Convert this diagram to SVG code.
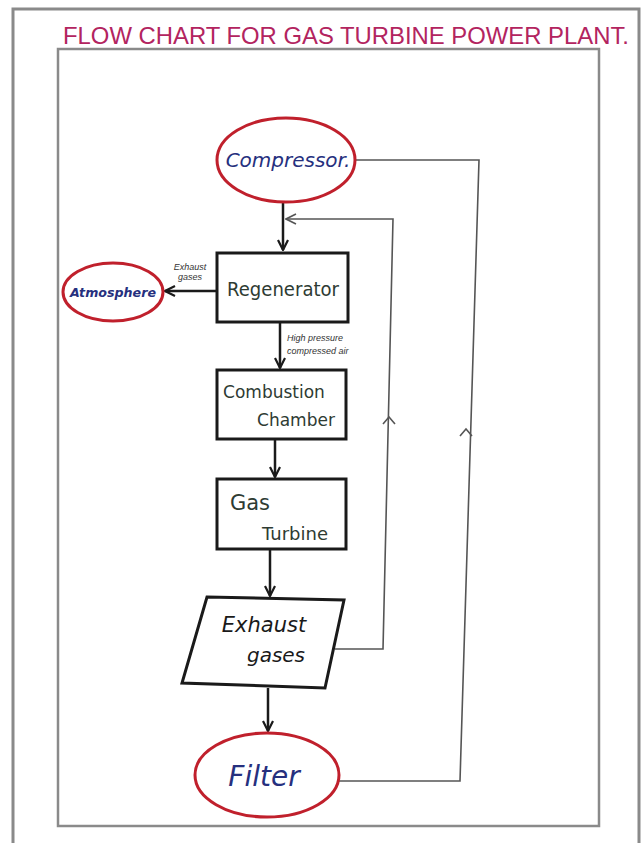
<svg xmlns="http://www.w3.org/2000/svg" width="642" height="843" viewBox="0 0 642 843">
<defs>
<marker id="ah" viewBox="0 0 12 12" refX="11" refY="6" markerWidth="12" markerHeight="12" markerUnits="userSpaceOnUse" orient="auto">
<path d="M1,1 L11,6 L1,11" fill="none" stroke="#1a1a1a" stroke-width="2.2"/>
</marker>
<marker id="ahg" viewBox="0 0 12 12" refX="11" refY="6" markerWidth="12" markerHeight="12" markerUnits="userSpaceOnUse" orient="auto">
<path d="M1,1 L11,6 L1,11" fill="none" stroke="#555" stroke-width="1.6"/>
</marker>
</defs>
<style>
.frame{fill:none;stroke:#8a8a8a}
.box{fill:#fff;stroke:#1a1a1a;stroke-width:3}
.oval{fill:#fff;stroke:#c0202c;stroke-width:3}
.main{fill:none;stroke:#1a1a1a;stroke-width:2.5}
.fb{fill:none;stroke:#555;stroke-width:1.6}
.t{font-family:"DejaVu Sans","Liberation Sans",sans-serif;text-anchor:middle}
.green{fill:#2e3b33}
.blue{fill:#26307e;font-style:italic}
.small{font-family:"Liberation Sans",sans-serif;font-size:9px;fill:#333;font-style:italic}
</style>
<rect width="642" height="843" fill="#fff"/>
<g id="frame">
<path class="frame" d="M13,845 L13,9 L639,9 L639,845" stroke-width="3"/>
<rect class="frame" x="58" y="49" width="541" height="777" stroke-width="2.5"/>
</g>
<g id="title">
<text x="63" y="44" textLength="566" lengthAdjust="spacingAndGlyphs" font-family="Liberation Sans, sans-serif" font-size="24" fill="#b3245f">FLOW CHART FOR GAS TURBINE POWER PLANT.</text>
</g>
<g id="connectors">
<path class="main" d="M283,202 L283,250" marker-end="url(#ah)"/>
<path class="main" d="M217,291 L165,291" marker-end="url(#ah)"/>
<path class="main" d="M280,322 L280,368" marker-end="url(#ah)"/>
<path class="main" d="M275,439 L275,477" marker-end="url(#ah)"/>
<path class="main" d="M270,549 L270,596" marker-end="url(#ah)"/>
<path class="main" d="M268,688 L268,731" marker-end="url(#ah)"/>
<path class="fb" d="M335,649 L383,649 L393,219 L286,219" marker-end="url(#ahg)"/>
<path class="fb" d="M356,160 L479,160 L460,781 L339,781"/>
<path class="fb" d="M383,424 L389,417 L395,424"/>
<path class="fb" d="M460,436 L466,429 L472,436"/>
<text class="small" x="190" y="270" text-anchor="middle">Exhaust</text>
<text class="small" x="190" y="280" text-anchor="middle">gases</text>
<text class="small" x="287" y="341">High pressure</text>
<text class="small" x="287" y="354">compressed air</text>
</g>
<g id="compressor">
<ellipse class="oval" cx="286" cy="160" rx="69" ry="42"/>
<text class="t blue" x="288" y="167" font-size="20">Compressor.</text>
</g>
<g id="regenerator">
<rect class="box" x="217" y="253" width="131" height="69"/>
<text class="t green" x="283" y="296" font-size="20" textLength="112" lengthAdjust="spacingAndGlyphs">Regenerator</text>
</g>
<g id="atmosphere">
<ellipse class="oval" cx="113" cy="292" rx="50" ry="29"/>
<text class="t blue" x="113" y="297" font-size="13" font-weight="bold" textLength="86" lengthAdjust="spacingAndGlyphs">Atmosphere</text>
</g>
<g id="combustion">
<rect class="box" x="217" y="370" width="129" height="69"/>
<text class="t green" x="274" y="398" font-size="17">Combustion</text>
<text class="t green" x="296" y="426" font-size="17">Chamber</text>
</g>
<g id="turbine">
<rect class="box" x="217" y="479" width="129" height="70"/>
<text class="t green" x="250" y="510" font-size="21">Gas</text>
<text class="t green" x="295" y="540" font-size="18">Turbine</text>
</g>
<g id="exhaust">
<polygon class="box" points="207,597 344,600 325,688 182,683"/>
<text class="t" x="264" y="632" font-size="21" fill="#1a1a1a" font-style="italic">Exhaust</text>
<text class="t" x="276" y="662" font-size="20" fill="#1a1a1a" font-style="italic">gases</text>
</g>
<g id="filter">
<ellipse class="oval" cx="267" cy="775" rx="72" ry="42"/>
<text class="t blue" x="264" y="786" font-size="28">Filter</text>
</g>
</svg>
